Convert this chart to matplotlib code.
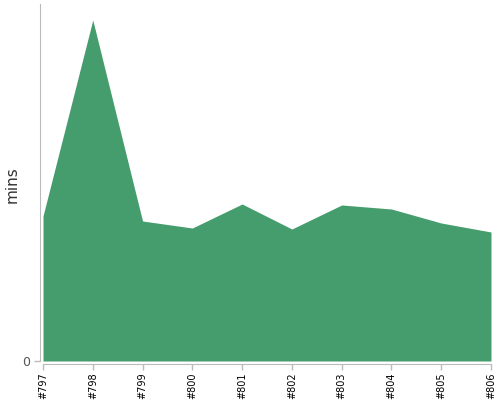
import matplotlib
matplotlib.use("Agg")
import matplotlib.pyplot as plt

builds = ["#797", "#798", "#799", "#800", "#801", "#802", "#803", "#804", "#805", "#806"]
mins = [14.5, 34.1, 14.0, 13.3, 15.7, 13.2, 15.6, 15.2, 13.8, 12.9]

fig = plt.figure(figsize=(5, 4), dpi=100)
ax = fig.add_axes([43/500, 1-361/400, (491-43)/500, (361-4)/400])
x = list(range(len(builds)))
ax.fill_between(x, 0, mins, color="#459d6e", linewidth=0)
ax.set_xlim(0, len(builds)-1)
ax.set_ylim(0, 35.7)
ax.set_xticks(x)
ax.set_xticklabels(builds)
ax.set_yticks([0])
ax.set_yticklabels(["0"])
for s in ["top", "right"]:
    ax.spines[s].set_visible(False)
for s in ["left", "bottom"]:
    ax.spines[s].set_position(("outward", 2))
    ax.spines[s].set_color("#bbbbbb")
ax.tick_params(axis="both", colors="#bbbbbb", length=4, width=1)
ax.tick_params(axis="x", labelrotation=90, labelsize=7, labelcolor="black", pad=2)
ax.tick_params(axis="y", labelsize=9, labelcolor="#555555", pad=3)
ax.set_ylabel("mins", fontsize=11, color="#333333")
ax.yaxis.set_label_coords(-0.052, 0.495)
fig.savefig("out.png", dpi=100)
